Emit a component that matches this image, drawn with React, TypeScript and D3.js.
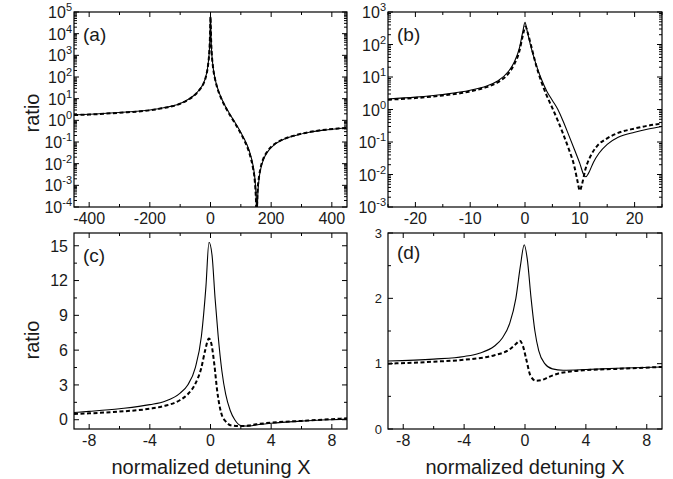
import React from 'react';
import * as d3 from 'd3';

type Pt = [number, number];

// tick values
const xTicksA = [-400, -200, 0, 200, 400];
const xMinorA = [-300, -100, 100, 300];
const yExpA = [-4, -3, -2, -1, 0, 1, 2, 3, 4, 5];
const xTicksB = [-20, -10, 0, 10, 20];
const xMinorB = [-25, -15, -5, 5, 15, 25];
const yExpB = [-3, -2, -1, 0, 1, 2, 3];
const xTicksCD = [-8, -4, 0, 4, 8];
const xMinorCD = [-6, -2, 2, 6];
const yTicksC = [0, 3, 6, 9, 12, 15];
const yMinorC = [1.5, 4.5, 7.5, 10.5, 13.5];
const yTicksD = [0, 1, 2, 3];
const yMinorD = [0.5, 1.5, 2.5];

// (a) wide scan, log scale
const solidA: Pt[] = [
  [-450, 1.8], [-400, 1.9], [-300, 2.3], [-200, 3.0], [-150, 3.9], [-100, 6], [-70, 10],
  [-50, 16], [-35, 28], [-25, 45], [-15, 110], [-8, 380], [-4, 1500], [-2, 6000], [-1, 20000],
  [0, 80000], [1, 22000], [2, 5600], [4, 1400], [8, 330], [15, 85], [25, 26], [36, 10.5],
  [50, 4.2], [65, 1.8], [80, 0.83], [95, 0.37], [110, 0.15], [122, 0.065], [132, 0.025],
  [140, 0.0086], [146, 0.0023], [150, 0.0004], [153, 0.00003], [156, 0.0004], [160, 0.0019],
  [166, 0.0061], [175, 0.016], [190, 0.038], [210, 0.074], [240, 0.13], [280, 0.2],
  [330, 0.29], [380, 0.36], [420, 0.41], [450, 0.44],
];
const dashA: Pt[] = [
  [-450, 1.75], [-400, 1.85], [-300, 2.25], [-200, 2.9], [-150, 3.8], [-100, 5.8], [-70, 9.6],
  [-50, 15.5], [-35, 27], [-25, 43], [-15, 105], [-8, 360], [-4, 1400], [-2, 5500], [-1, 18000],
  [0, 60000], [1, 20000], [2, 5200], [4, 1300], [8, 310], [15, 80], [25, 24], [36, 9.8],
  [50, 3.9], [65, 1.65], [80, 0.75], [95, 0.33], [110, 0.13], [122, 0.055], [132, 0.02],
  [140, 0.0065], [146, 0.0016], [150, 0.0002], [152, 0.00003], [155, 0.0005], [160, 0.0025],
  [166, 0.0072], [175, 0.018], [190, 0.041], [210, 0.078], [240, 0.135], [280, 0.205],
  [330, 0.295], [380, 0.37], [420, 0.42], [450, 0.45],
];

// (b) close-up, log scale
const solidB: Pt[] = [
  [-25, 2.1], [-20, 2.4], [-15, 2.9], [-10, 3.9], [-7, 5.3], [-5, 7.5], [-3, 15], [-2, 28],
  [-1, 80], [-0.4, 250], [0, 480], [0.4, 260], [1, 95], [2, 25], [3, 8.5], [4, 3.6], [5, 1.9],
  [6, 1.0], [7, 0.42], [8, 0.16], [9, 0.06], [10, 0.022], [10.7, 0.01], [11.1, 0.0085],
  [11.6, 0.011], [12.5, 0.024], [13.5, 0.045], [15, 0.085], [17, 0.14], [20, 0.2],
  [22.5, 0.25], [25, 0.3],
];
const dashB: Pt[] = [
  [-25, 2.0], [-20, 2.25], [-15, 2.7], [-10, 3.6], [-7, 4.9], [-5, 6.8], [-3, 13], [-2, 24],
  [-1, 65], [-0.4, 190], [0.1, 360], [0.5, 230], [1, 110], [2, 24], [3, 7], [4, 2.6], [5, 1.1],
  [6, 0.45], [7, 0.17], [8, 0.06], [9, 0.018], [9.6, 0.006], [10, 0.0032], [10.4, 0.005],
  [11, 0.014], [12, 0.038], [13, 0.07], [15, 0.13], [17, 0.19], [20, 0.26], [22.5, 0.32],
  [25, 0.37],
];

// (c) linear scale
const solidC: Pt[] = [
  [-9, 0.62], [-8, 0.72], [-6, 0.95], [-4, 1.3], [-3, 1.6], [-2, 2.3], [-1.5, 3.0], [-1, 4.5],
  [-0.6, 7.2], [-0.3, 11.5], [-0.1, 15.3], [0.1, 14.2], [0.3, 10.5], [0.5, 7.3], [0.75, 4.2],
  [1, 2.2], [1.3, 0.8], [1.6, 0.0], [2, -0.5], [2.5, -0.55], [3, -0.45], [4, -0.3],
  [6, -0.12], [8, 0.0], [9, 0.05],
];
const dashC: Pt[] = [
  [-9, 0.5], [-8, 0.55], [-6, 0.7], [-4, 0.95], [-3, 1.2], [-2, 1.7], [-1.5, 2.2], [-1, 3.1],
  [-0.6, 4.5], [-0.35, 6.0], [-0.1, 7.0], [0.05, 6.6], [0.25, 4.8], [0.45, 2.4], [0.7, 0.6],
  [1, -0.15], [1.4, -0.5], [1.9, -0.55], [2.5, -0.5], [3, -0.4], [4, -0.25], [6, -0.1],
  [8, 0.05], [9, 0.12],
];

// (d) linear scale
const solidD: Pt[] = [
  [-9, 1.04], [-6, 1.07], [-4, 1.11], [-3, 1.16], [-2, 1.27], [-1.5, 1.39], [-1, 1.62],
  [-0.6, 2.0], [-0.3, 2.5], [-0.05, 2.82], [0.15, 2.6], [0.4, 2.0], [0.65, 1.5], [0.9, 1.2],
  [1.3, 1.0], [1.8, 0.92], [2.5, 0.9], [4, 0.91], [6, 0.93], [9, 0.95],
];
const dashD: Pt[] = [
  [-9, 1.0], [-6, 1.03], [-4, 1.06], [-2, 1.13], [-1, 1.22], [-0.6, 1.3], [-0.35, 1.35],
  [-0.15, 1.28], [0.1, 1.05], [0.35, 0.82], [0.7, 0.74], [1.1, 0.75], [1.6, 0.8], [2.2, 0.85],
  [3, 0.88], [4, 0.9], [6, 0.92], [9, 0.95],
];

const FONT = '"Liberation Sans", Arial, sans-serif';
const INK = '#1a1a1a';

type PanelProps = {
  id: string;
  x0: number; x1: number; y0: number; y1: number;
  xDomain: [number, number];
  yDomain: [number, number];
  log?: boolean;
  xTicks: number[]; xMinor: number[];
  yTicks?: number[]; yMinor?: number[];
  yExp?: number[];
  yFont?: number;
  solid: Pt[]; dashed: Pt[];
  tag: string; tagY: number;
};

function Panel(p: PanelProps) {
  const xs = d3.scaleLinear().domain(p.xDomain).range([p.x0, p.x1]);
  const ys: any = p.log
    ? d3.scaleLog().domain(p.yDomain).range([p.y1, p.y0])
    : d3.scaleLinear().domain(p.yDomain).range([p.y1, p.y0]);
  const line = d3.line<Pt>().x(d => xs(d[0])).y(d => ys(d[1])).curve(d3.curveMonotoneX);

  let yMaj: number[] = p.yTicks || [];
  let yMin: number[] = p.yMinor || [];
  if (p.log && p.yExp) {
    yMaj = p.yExp.map(e => Math.pow(10, e));
    yMin = [];
    p.yExp.slice(0, -1).forEach(e => {
      for (let m = 2; m <= 9; m++) yMin.push(m * Math.pow(10, e));
    });
  }

  const segs: { x1: number; y1: number; x2: number; y2: number }[] = [];
  const addX = (v: number, len: number) => {
    const x = xs(v);
    segs.push({ x1: x, y1: p.y1, x2: x, y2: p.y1 - len });
    segs.push({ x1: x, y1: p.y0, x2: x, y2: p.y0 + len });
  };
  const addY = (v: number, len: number) => {
    const y = ys(v);
    segs.push({ x1: p.x0, y1: y, x2: p.x0 + len, y2: y });
    segs.push({ x1: p.x1, y1: y, x2: p.x1 - len, y2: y });
  };
  p.xTicks.forEach(v => addX(v, 5));
  p.xMinor.forEach(v => addX(v, 3));
  yMaj.forEach(v => addY(v, 5));
  yMin.forEach(v => addY(v, 3));

  const clip = `clip-${p.id}`;
  return (
    <g>
      <defs>
        <clipPath id={clip}>
          <rect x={p.x0} y={p.y0} width={p.x1 - p.x0} height={p.y1 - p.y0} />
        </clipPath>
      </defs>
      <g clipPath={`url(#${clip})`} fill="none" stroke="#000">
        <path d={line(p.dashed) || ''} strokeWidth={2} strokeDasharray="4,2.5" />
        <path d={line(p.solid) || ''} strokeWidth={1.1} />
      </g>
      <g stroke="#000" strokeWidth={1}>
        {segs.map((s, i) => <line key={i} {...s} />)}
      </g>
      <rect x={p.x0} y={p.y0} width={p.x1 - p.x0} height={p.y1 - p.y0}
        fill="none" stroke="#000" strokeWidth={1.2} />
      <g fontFamily={FONT} fill={INK}>
        {p.xTicks.map(v => (
          <text key={v} x={xs(v)} y={p.y1 + 17} fontSize={16} textAnchor="middle">{String(v)}</text>
        ))}
        {p.log && p.yExp
          ? p.yExp.map(e => (
            <text key={e} x={p.x0 - 2} y={ys(Math.pow(10, e)) + 6} fontSize={16} textAnchor="end">
              10<tspan dy={-7} fontSize={11}>{String(e)}</tspan>
            </text>
          ))
          : yMaj.map(v => (
            <text key={v} x={p.x0 - 6} y={ys(v) + (p.yFont || 16) * 0.36}
              fontSize={p.yFont || 16} textAnchor="end">{String(v)}</text>
          ))}
        <text x={p.x0 + 9} y={p.tagY} fontSize={19}>{p.tag}</text>
      </g>
    </g>
  );
}

export default function App() {
  return (
    <svg width={673} height={479} viewBox="0 0 673 479"
      style={{ position: 'absolute', left: 0, top: 0, background: '#fff' }}>
      <rect width={673} height={479} fill="#fff" />
      <Panel id="a" x0={74} x1={347} y0={12} y1={207} xDomain={[-450, 450]} yDomain={[1e-4, 1e5]}
        log yExp={yExpA} xTicks={xTicksA} xMinor={xMinorA} solid={solidA} dashed={dashA}
        tag="(a)" tagY={41} />
      <Panel id="b" x0={388} x1={662} y0={12} y1={207} xDomain={[-25, 25]} yDomain={[1e-3, 1e3]}
        log yExp={yExpB} xTicks={xTicksB} xMinor={xMinorB} solid={solidB} dashed={dashB}
        tag="(b)" tagY={41} />
      <Panel id="c" x0={74} x1={347} y0={233} y1={429} xDomain={[-9, 9]} yDomain={[-0.8, 16.1]}
        xTicks={xTicksCD} xMinor={xMinorCD} yTicks={yTicksC} yMinor={yMinorC}
        solid={solidC} dashed={dashC} tag="(c)" tagY={262} />
      <Panel id="d" x0={388} x1={662} y0={233} y1={429} xDomain={[-9, 9]} yDomain={[0, 3]}
        xTicks={xTicksCD} xMinor={xMinorCD} yTicks={yTicksD} yMinor={yMinorD} yFont={13}
        solid={solidD} dashed={dashD} tag="(d)" tagY={259} />
      <g fontFamily={FONT} fill={INK} fontSize={20}>
        <text transform="translate(39,113) rotate(-90)" textAnchor="middle">ratio</text>
        <text transform="translate(39,340) rotate(-90)" textAnchor="middle">ratio</text>
        <text x={211} y={474} textAnchor="middle">normalized detuning X</text>
        <text x={525} y={474} textAnchor="middle">normalized detuning X</text>
      </g>
    </svg>
  );
}
